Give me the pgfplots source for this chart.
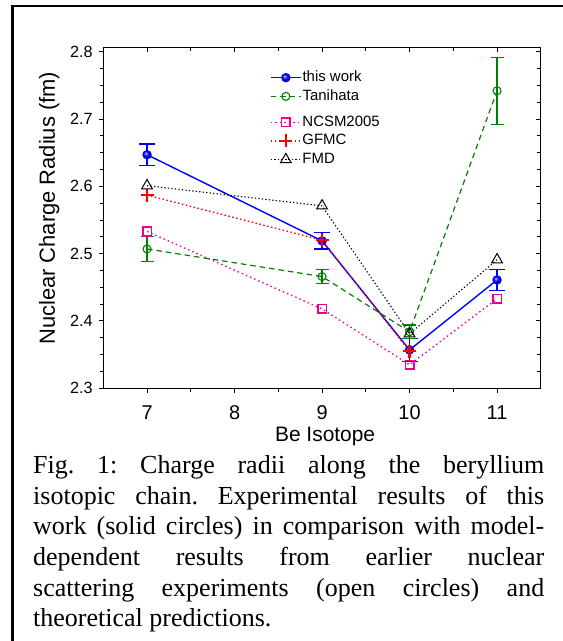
\documentclass[border=0pt]{standalone}
\usepackage{fontspec}
\setmainfont{Liberation Sans}
\newfontfamily\capfont{Liberation Serif}
\usepackage{pgfplots}
\pgfplotsset{compat=1.18}

\definecolor{tgreen}{RGB}{0,128,0}

\pgfplotsset{
  boxframe/.style={
    at={(0bp,0bp)}, anchor=south west,
    scale only axis, width=437.5bp, height=340.6bp,
    xmin=6.5, xmax=11.5, ymin=2.3, ymax=2.806,
    xtick={7,8,9,10,11}, ytick={2.3,2.4,2.5,2.6,2.7,2.8},
    minor x tick num=1, minor y tick num=3,
    axis line style={line width=1.2bp},
    major tick length=4.5bp, minor tick length=3.5bp,
    every tick/.style={black, line width=1bp},
    legend style={draw=none, fill=none, anchor=north west, inner sep=0pt, row sep=0.7bp,
      font=\fontsize{15}{15}\selectfont,
      nodes={inner xsep=1bp, inner ysep=2bp, text height=11bp, text depth=3bp}},
    legend cell align=left,
    legend image code/.code={\draw[mark repeat=2,mark phase=2] plot coordinates {(0bp,0bp) (15bp,0bp) (30bp,0bp)};},
  },
  ncsm/.style={magenta, line width=1.3bp, dash pattern=on 1.5bp off 3bp, mark=square, mark size=4.3bp,
    mark options={solid, line width=1.5bp}},
  gfmc/.style={red, line width=1.3bp, dash pattern=on 1.5bp off 2.5bp, mark=+, mark size=6.5bp,
    mark options={solid, line width=2.2bp}},
  fmd/.style={black, line width=1.1bp, dash pattern=on 1.3bp off 2.2bp, mark=triangle, mark size=6.2bp,
    mark options={solid, line width=1bp}},
}

\begin{document}
\begin{tikzpicture}[x=1bp,y=1bp]

% ticks on top and right, pointing in; also holds the lower legend block
\begin{axis}[boxframe, tick align=inside, xtick pos=right, ytick pos=right,
  xticklabels={}, yticklabels={},
  legend style={at={(axis description cs:0.381,0.8083)}}]
\addlegendimage{ncsm}
\addlegendentry{NCSM2005}
\addlegendimage{gfmc}
\addlegendentry{GFMC}
\addlegendimage{fmd}
\addlegendentry{FMD}
\end{axis}

\begin{axis}[boxframe, name=ax, tick align=outside, xtick pos=left, ytick pos=left,
  /pgf/number format/assume math mode=true,
  xticklabel style={font=\fontsize{20}{20}\selectfont, anchor=base, inner sep=0pt, yshift=-26.5bp},
  yticklabel style={font=\fontsize{16.3}{16.3}\selectfont, anchor=east, inner sep=0pt, xshift=-6bp,
    /pgf/number format/.cd, fixed, fixed zerofill, precision=1},
  xlabel={Be Isotope},
  xlabel style={at={(axis description cs:0.507,-0.1568)}, anchor=base, inner sep=0pt,
    font=\fontsize{21}{21}\selectfont},
  ylabel={Nuclear Charge Radius (fm)},
  ylabel style={at={(axis description cs:-0.0999,0.5285)}, anchor=south, inner sep=0pt,
    font=\fontsize{22}{22}\selectfont},
  legend style={at={(axis description cs:0.381,0.9389)}},
]

% this work
\addplot[blue, line width=1.4bp, mark=ball, mark size=4bp, mark options={ball color=blue},
  error bars/.cd, y dir=both, y explicit,
  error bar style={line width=1.3bp, blue},
  error mark options={rotate=90, mark size=8bp, line width=1.3bp, blue}]
coordinates {
  (7,2.647) +- (0,0.016)
  (9,2.519) +- (0,0.012)
  (10,2.357) +- (0,0.017)
  (11,2.461) +- (0,0.016)
};
\addlegendentry{this work}

% Tanihata
\addplot[tgreen, line width=1.2bp, dash pattern=on 5.5bp off 4bp, mark=o, mark size=4bp,
  mark options={solid, line width=1.1bp},
  error bars/.cd, y dir=both, y explicit,
  error bar style={line width=1.2bp, solid, tgreen},
  error mark options={rotate=90, mark size=6.5bp, line width=1.2bp, solid, tgreen}]
coordinates {
  (7,2.507) +- (0,0.019)
  (9,2.466) +- (0,0.010)
  (10,2.384) +- (0,0.010)
  (11,2.742) +- (0,0.050)
};
\addlegendentry{Tanihata}

% NCSM2005
\addplot[ncsm] coordinates {(7,2.533) (9,2.418) (10,2.335) (11,2.433)};

% GFMC
\addplot[gfmc] coordinates {(7,2.587) (9,2.520) (10,2.355)};

% FMD
\addplot[fmd] coordinates {(7,2.601) (9,2.571) (10,2.381) (11,2.491)};

\end{axis}

% page frame and caption, placed from the axis corner (axis corner = 103.3, 388.3 in the page)
\begin{scope}[shift={(ax.south west)}, xshift=-103.3bp, yshift=-252.7bp]
\draw[line width=2.3bp] (12.6,-2) -- (12.6,634.8) -- (565,634.8);
\node[anchor=north west, inner sep=0pt, text width=511bp, align=justify,
  font=\capfont\fontsize{26bp}{30.6bp}\selectfont] at (33,187.5)
{\tolerance=9999\emergencystretch=0pt\frenchspacing\rule{0pt}{20bp}Fig. 1: Charge radii along the beryllium\linebreak
isotopic chain. Experimental results of this\linebreak
work (solid circles) in comparison with model-\linebreak
dependent results from earlier nuclear\linebreak
scattering experiments (open circles) and\linebreak
theoretical predictions.};
\pgfresetboundingbox
\path[use as bounding box] (0,0) rectangle (563,641);
\end{scope}

\end{tikzpicture}
\end{document}
